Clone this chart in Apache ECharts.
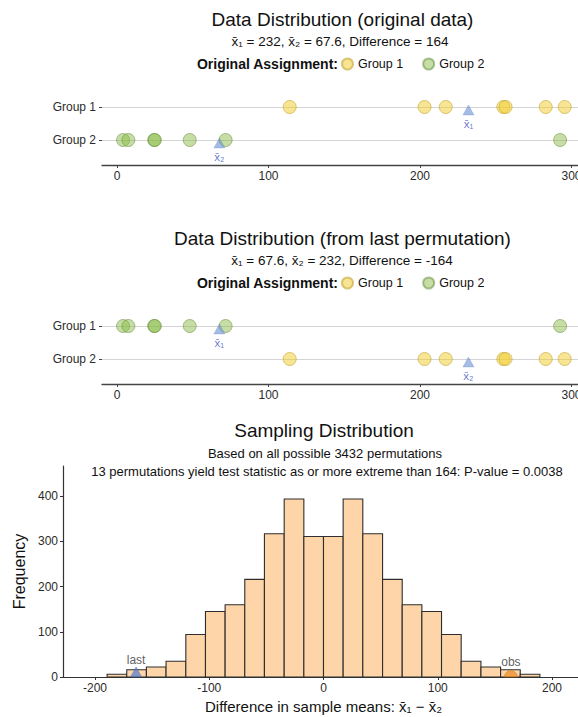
<!DOCTYPE html>
<html>
<head>
<meta charset="utf-8">
<script src="https://cdn.jsdelivr.net/npm/echarts@6/dist/echarts.min.js"></script>
<style>
html, body { margin: 0; padding: 0; background: #ffffff; }
#chart { width: 578px; height: 717px; }
</style>
</head>
<body>
<div id="chart"></div>
<script>
// ---------------- data ----------------
const rowLabels = ['Group 1', 'Group 2'];
const group1Values = [114, 203, 217, 255, 256.5, 283, 295.5];
const group2Values = [4, 7.5, 24.5, 25, 48, 71.7, 292.5];
const mean1 = 232;
const mean2 = 67.6;
const dotTicks = [0, 100, 200, 300];

const binEdges = [-189.4, -172.2, -155.0, -137.8, -120.5, -103.3, -86.1, -68.9, -51.7, -34.4, -17.2, 0,
                  17.2, 34.4, 51.7, 68.9, 86.1, 103.3, 120.5, 137.8, 155.0, 172.2, 189.4];
const binCounts = [6, 16, 22, 35, 94, 145, 160, 216, 317, 394, 311,
                   311, 394, 317, 216, 160, 145, 94, 35, 22, 16, 6];
const histTicksX = [-200, -100, 0, 100, 200];
const histTicksY = [0, 100, 200, 300, 400];
const observedDiff = 164;
const lastDiff = -164;

// ---------------- styles ----------------
const FONT = '"Liberation Sans", Arial, Helvetica, sans-serif';
const TXT = '#2b2b2b';
const YELLOW = { color: 'rgba(242,205,50,0.65)', borderColor: 'rgba(190,160,40,0.7)', borderWidth: 1 };
const GREEN = { color: 'rgba(135,185,70,0.6)', borderColor: 'rgba(100,140,60,0.65)', borderWidth: 1 };
const TRI = { color: 'rgba(105,145,210,0.75)', borderColor: 'rgba(80,115,190,0.6)', borderWidth: 0.5 };
const XB = 'x\u0304';

function txt(text, x, y, size, opts) {
  opts = opts || {};
  return {
    type: 'text', x: x, y: y, silent: true,
    style: {
      text: text, fill: opts.color || '#111',
      font: (opts.weight || 'normal') + ' ' + size + 'px ' + FONT,
      align: opts.align || 'center', verticalAlign: 'middle',
      textAlign: opts.align || 'center', textVerticalAlign: 'middle'
    }
  };
}

function dotX(gi) {
  return {
    type: 'value', gridIndex: gi, min: -9.9, max: 330.7,
    axisLine: { show: true, onZero: false, lineStyle: { color: '#444', width: 1.3 } },
    axisTick: { show: true, length: 3, customValues: dotTicks, lineStyle: { color: '#444' } },
    axisLabel: { customValues: dotTicks, fontSize: 12, color: TXT, margin: 5, fontFamily: FONT },
    splitLine: { show: false }
  };
}
function dotY(gi) {
  return {
    type: 'value', gridIndex: gi, inverse: true, min: 0.4, max: 2.7576,
    axisLine: { show: false, onZero: false },
    axisTick: { show: true, length: 3, customValues: [1, 2], lineStyle: { color: '#444' } },
    axisLabel: { customValues: [1, 2], formatter: v => rowLabels[Math.round(v) - 1], fontSize: 12,
                 color: TXT, margin: 6, fontFamily: FONT },
    splitLine: { show: true, lineStyle: { color: '#d4d4d4', width: 1 } }
  };
}
function meanSeries(gi, pts, labels) {
  return {
    type: 'scatter', xAxisIndex: gi, yAxisIndex: gi, name: 'mean' + gi,
    symbol: 'triangle', symbolSize: [11, 10], symbolOffset: [0, 3], z: 4,
    itemStyle: TRI,
    label: { show: true, position: 'bottom', distance: 3,
             formatter: p => labels[p.dataIndex], color: '#3f55c0', fontSize: 11.5, fontFamily: FONT },
    data: pts
  };
}

const chart = echarts.init(document.getElementById('chart'), null, { renderer: 'svg' });

const option = {
  animation: false,
  backgroundColor: '#ffffff',
  textStyle: { fontFamily: FONT },
  grid: [
    { left: 102, right: -40, top: 87.2, bottom: 552, containLabel: false, outerBoundsMode: 'none' },
    { left: 102, right: -40, top: 306.2, bottom: 333, containLabel: false, outerBoundsMode: 'none' },
    { left: 63, right: -6, top: 466, bottom: 40, containLabel: false, outerBoundsMode: 'none' }
  ],
  xAxis: [
    dotX(0), dotX(1),
    {
      type: 'value', gridIndex: 2, min: -228, max: 228,
      axisLine: { show: true, onZero: false, lineStyle: { color: '#333', width: 1.2 } },
      axisTick: { show: true, length: 3, customValues: histTicksX, lineStyle: { color: '#333' } },
      axisLabel: { customValues: histTicksX, fontSize: 12, color: TXT, margin: 5, fontFamily: FONT },
      splitLine: { show: false },
      name: 'Difference in sample means: ' + XB + '\u2081 \u2212 ' + XB + '\u2082',
      nameLocation: 'middle', nameGap: 22,
      nameTextStyle: { fontSize: 15, color: '#111', fontFamily: FONT }
    }
  ],
  yAxis: [
    dotY(0), dotY(1),
    {
      type: 'value', gridIndex: 2, min: 0, max: 467,
      axisLine: { show: true, onZero: false, lineStyle: { color: '#333', width: 1.2 } },
      axisTick: { show: true, length: 3, customValues: histTicksY, lineStyle: { color: '#333' } },
      axisLabel: { customValues: histTicksY, fontSize: 12, color: TXT, margin: 5, fontFamily: FONT },
      splitLine: { show: false },
      name: 'Frequency', nameLocation: 'middle', nameRotate: 90, nameGap: 36,
      nameTextStyle: { fontSize: 16, color: '#111', fontFamily: FONT }
    }
  ],
  legend: [
    { data: ['Group 1', 'Group 2'], left: 341, top: 57.5, padding: 0, icon: 'circle',
      itemWidth: 11, itemHeight: 11, itemGap: 19, selectedMode: false,
      textStyle: { fontSize: 12.5, color: '#111', fontFamily: FONT } },
    { data: ['Group 1', 'Group 2'], left: 341, top: 276.5, padding: 0, icon: 'circle',
      itemWidth: 11, itemHeight: 11, itemGap: 19, selectedMode: false,
      textStyle: { fontSize: 12.5, color: '#111', fontFamily: FONT } }
  ],
  graphic: [
    txt('Data Distribution (original data)', 342.5, 19, 19),
    txt(XB + '\u2081 = ' + mean1 + ', ' + XB + '\u2082 = ' + mean2 + ', Difference = ' + (mean1 - mean2).toFixed(0), 340, 41, 13.5),
    txt('Original Assignment:', 338, 64, 14, { weight: 'bold', align: 'right' }),
    txt('Data Distribution (from last permutation)', 342.5, 238, 19),
    txt(XB + '\u2081 = ' + mean2 + ', ' + XB + '\u2082 = ' + mean1 + ', Difference = ' + (mean2 - mean1).toFixed(0), 342, 260, 13.5),
    txt('Original Assignment:', 338, 283, 14, { weight: 'bold', align: 'right' }),
    txt('Sampling Distribution', 324, 430, 19),
    txt('Based on all possible 3432 permutations', 325, 453, 13),
    txt('13 permutations yield test statistic as or more extreme than 164: P-value = 0.0038', 327, 471, 13)
  ],
  series: [
    // chart 1: original data
    { type: 'scatter', name: 'Group 1', xAxisIndex: 0, yAxisIndex: 0, symbolSize: 13, itemStyle: YELLOW, z: 3,
      data: group1Values.map(v => [v, 1]) },
    { type: 'scatter', name: 'Group 2', xAxisIndex: 0, yAxisIndex: 0, symbolSize: 13, itemStyle: GREEN, z: 3,
      data: group2Values.map(v => [v, 2]) },
    meanSeries(0, [[mean1, 1], [mean2, 2]], [XB + '\u2081', XB + '\u2082']),
    // chart 2: last permutation
    { type: 'scatter', name: 'Group 1', xAxisIndex: 1, yAxisIndex: 1, symbolSize: 13, itemStyle: YELLOW, z: 3,
      data: group1Values.map(v => [v, 2]) },
    { type: 'scatter', name: 'Group 2', xAxisIndex: 1, yAxisIndex: 1, symbolSize: 13, itemStyle: GREEN, z: 3,
      data: group2Values.map(v => [v, 1]) },
    meanSeries(1, [[mean2, 1], [mean1, 2]], [XB + '\u2081', XB + '\u2082']),
    // histogram
    {
      type: 'custom', name: 'hist', xAxisIndex: 2, yAxisIndex: 2, z: 2,
      encode: { x: [0, 1], y: 2 },
      data: binCounts.map((c, i) => [binEdges[i], binEdges[i + 1], c]),
      renderItem: function (params, api) {
        const p0 = api.coord([api.value(0), api.value(2)]);
        const p1 = api.coord([api.value(1), 0]);
        return {
          type: 'rect',
          shape: { x: p0[0], y: p0[1], width: p1[0] - p0[0], height: p1[1] - p0[1] },
          style: { fill: '#fdd5a8', stroke: '#2e2e2e', lineWidth: 1.1 }
        };
      }
    },
    {
      type: 'scatter', name: 'last', xAxisIndex: 2, yAxisIndex: 2, z: 5,
      symbol: 'triangle', symbolSize: [11, 10], symbolOffset: [0, -5],
      itemStyle: { color: 'rgba(85,125,205,0.9)', borderColor: 'rgba(60,95,170,0.8)', borderWidth: 0.6 },
      label: { show: true, position: 'top', distance: 1, formatter: 'last', fontSize: 12, color: '#333', fontFamily: FONT },
      data: [[lastDiff, 0]]
    },
    {
      type: 'scatter', name: 'obs', xAxisIndex: 2, yAxisIndex: 2, z: 5,
      symbol: 'path://M0,10 A10,10 0 0 1 20,10 Z', symbolSize: [13, 6.5], symbolOffset: [0, -3.25],
      itemStyle: { color: 'rgba(235,140,40,0.9)', borderColor: 'rgba(200,110,20,0.8)', borderWidth: 0.6 },
      label: { show: true, position: 'top', distance: 2, formatter: 'obs', fontSize: 12, color: '#333', fontFamily: FONT },
      data: [[observedDiff, 0]]
    }
  ]
};

chart.setOption(option);
</script>
</body>
</html>
